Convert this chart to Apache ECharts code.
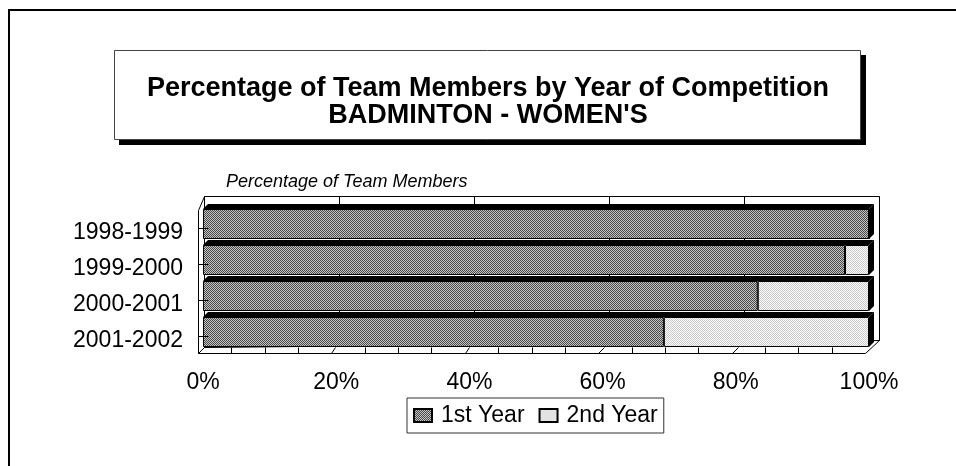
<!DOCTYPE html>
<html>
<head>
<meta charset="utf-8">
<script src="https://cdn.jsdelivr.net/npm/echarts@6/dist/echarts.min.js"></script>
<style>
  html, body { margin: 0; padding: 0; background: #fff; }
  #chart { width: 956px; height: 466px; }
</style>
</head>
<body>
<div id="chart"></div>
<script>
// data
const categories = ['1998-1999', '1999-2000', '2000-2001', '2001-2002'];
const firstYear = [100, 96.4, 83.3, 69.2];
const secondYear = [0, 3.6, 16.7, 30.8];
const xTicks = [0, 20, 40, 60, 80, 100];

const FONT = 'Liberation Sans, Arial, sans-serif';

// small checker patterns like the old printer fills
function checker(a, b) {
    const c = document.createElement('canvas');
    c.width = 2; c.height = 2;
    const ctx = c.getContext('2d');
    ctx.fillStyle = a; ctx.fillRect(0, 0, 2, 2);
    ctx.fillStyle = b; ctx.fillRect(0, 0, 1, 1); ctx.fillRect(1, 1, 1, 1);
    return { image: c, repeat: 'repeat' };
}
const darkFill = checker('#c4c4c4', '#4a4a4a');
const lightFill = checker('#ffffff', '#c8c8c8');

const px = v => Math.round(v) + 0.5;
const line = (x1, y1, x2, y2) => ({
    type: 'line',
    shape: { x1: px(x1), y1: px(y1), x2: px(x2), y2: px(y2) },
    style: { stroke: '#000', lineWidth: 1 }
});

// the 3d box around the plot, worked out from the grid rect
function boxPoints(cs) {
    const L = cs.x, R = cs.x + cs.width, T = cs.y, B = cs.y + cs.height;
    return {
        fl: L - 5, fr: R - 4, ft: T + 4, fb: B + 3,      // front plane
        bl: L + 1, br: R + 10, bt: T - 10, bbl: B - 3, bbr: B - 10 // back plane
    };
}

function renderBack(params, api) {
    if (params.dataIndex !== 0) return;
    const p = boxPoints(params.coordSys);
    const kids = [
        line(p.bl, p.bt, p.br, p.bt),
        line(p.br, p.bt, p.br, p.bbr),
        line(p.bl, p.bt, p.bl, p.bbl),
        line(p.bl, p.bbl, p.br, p.bbr),
        line(p.fl, p.ft, p.bl, p.bt)
    ];
    xTicks.forEach(v => {
        const x = p.bl + (p.br - p.bl) * v / 100;
        kids.push(line(x, p.bt, x, p.bbl + (p.bbr - p.bbl) * v / 100));
    });
    return { type: 'group', children: kids };
}

function renderFront(params, api) {
    if (params.dataIndex !== 0) return;
    const p = boxPoints(params.coordSys);
    const kids = [
        line(p.fl, p.ft, p.fl, p.fb),
        line(p.fl, p.fb, p.fr, p.fb),
        line(p.fl, p.fb, p.bl, p.bbl),
        line(p.fr, p.fb, p.br, p.bbr)
    ];
    for (let v = 5; v < 100; v += 5) {
        const x = p.fl + (p.fr - p.fl) * v / 100;
        if (v % 20 === 0) {
            const xb = p.bl + (p.br - p.bl) * v / 100;
            kids.push(line(x, p.fb, x + (xb - x) * 0.5, p.fb - 6));
        } else {
            kids.push(line(x, p.fb, x, p.fb - 6));
        }
    }
    categories.forEach((c, i) => {
        const y = api.coord([0, i])[1] + 4;
        kids.push(line(p.fl, y, p.fl + 10, y));
    });
    return { type: 'group', children: kids };
}

// black top and side faces of each bar
function renderFaces(params, api) {
    const d = 5, half = 15;
    const p0 = api.coord([0, api.value(1)]);
    const p1 = api.coord([api.value(0), api.value(1)]);
    const x0 = p0[0], x1 = p1[0], yt = p0[1] - half, yb = p0[1] + half;
    return {
        type: 'group',
        children: [
            { type: 'polygon', shape: { points: [[x0, yt], [x0 + d, yt - d], [x1 + d, yt - d], [x1, yt]] },
              style: { fill: '#000' } },
            { type: 'polygon', shape: { points: [[x1, yt], [x1 + d, yt - d], [x1 + d, yb - d], [x1, yb]] },
              style: { fill: '#000' } }
        ]
    };
}

const chart = echarts.init(document.getElementById('chart'), null, { renderer: 'canvas' });

chart.setOption({
    animation: false,
    backgroundColor: '#fff',
    textStyle: { fontFamily: FONT, color: '#000' },
    graphic: [
        { type: 'rect', z: -10, shape: { x: 9, y: 10, width: 1000, height: 1000 },
          style: { fill: 'none', stroke: '#000', lineWidth: 2 } },
        { type: 'rect', z: -9, shape: { x: 119, y: 55, width: 747, height: 90 },
          style: { fill: '#000' } },
        { type: 'rect', z: -8, shape: { x: 114.5, y: 50.5, width: 746, height: 89 },
          style: { fill: '#fff', stroke: '#444', lineWidth: 1 } }
    ],
    title: [
        {
            text: 'Percentage of Team Members by Year of Competition\nBADMINTON - WOMEN\'S',
            left: 488, top: 75, textAlign: 'center', padding: 0,
            textStyle: { fontFamily: FONT, fontSize: 27, fontWeight: 'bold', lineHeight: 27, color: '#000' }
        },
        {
            text: 'Percentage of Team Members',
            left: 226, top: 173, padding: 0,
            textStyle: { fontFamily: FONT, fontSize: 18, fontStyle: 'italic', fontWeight: 'normal', color: '#000' }
        }
    ],
    legend: {
        data: ['1st Year', '2nd Year'],
        left: 407, top: 398,
        orient: 'horizontal',
        padding: [5, 6, 5, 6],
        itemGap: 14,
        itemWidth: 18, itemHeight: 13,
        borderColor: '#333', borderWidth: 1,
        icon: 'rect',
        textStyle: { fontFamily: FONT, fontSize: 23, color: '#000', padding: [0, 0, 0, 4], lineHeight: 25 }
    },
    grid: { left: 203, top: 206, width: 666, height: 144, containLabel: false },
    xAxis: {
        type: 'value', min: 0, max: 100, interval: 20,
        axisLine: { show: false }, axisTick: { show: false }, splitLine: { show: false },
        axisLabel: { formatter: '{value}%', fontSize: 23, margin: 21, color: '#000', fontFamily: FONT }
    },
    yAxis: {
        type: 'category', data: categories, inverse: true,
        axisLine: { show: false }, axisTick: { show: false }, splitLine: { show: false },
        axisLabel: { fontSize: 23, margin: 20, color: '#000', fontFamily: FONT,
                     verticalAlign: 'top', lineHeight: 17 }
    },
    series: [
        { type: 'custom', name: 'back', z: 1, silent: true, renderItem: renderBack, data: [[0, 0]] },
        {
            name: '1st Year', type: 'bar', stack: 'total', barWidth: 30, z: 2,
            itemStyle: { color: darkFill, borderColor: '#000', borderWidth: 1 },
            data: firstYear
        },
        {
            name: '2nd Year', type: 'bar', stack: 'total', barWidth: 30, z: 2,
            itemStyle: { color: lightFill, borderColor: '#000', borderWidth: 1 },
            data: secondYear
        },
        {
            type: 'custom', name: 'faces', z: 3, silent: true, renderItem: renderFaces,
            data: categories.map((c, i) => [firstYear[i] + secondYear[i], i])
        },
        { type: 'custom', name: 'front', z: 4, silent: true, renderItem: renderFront, data: [[0, 0]] }
    ]
});
</script>
</body>
</html>
